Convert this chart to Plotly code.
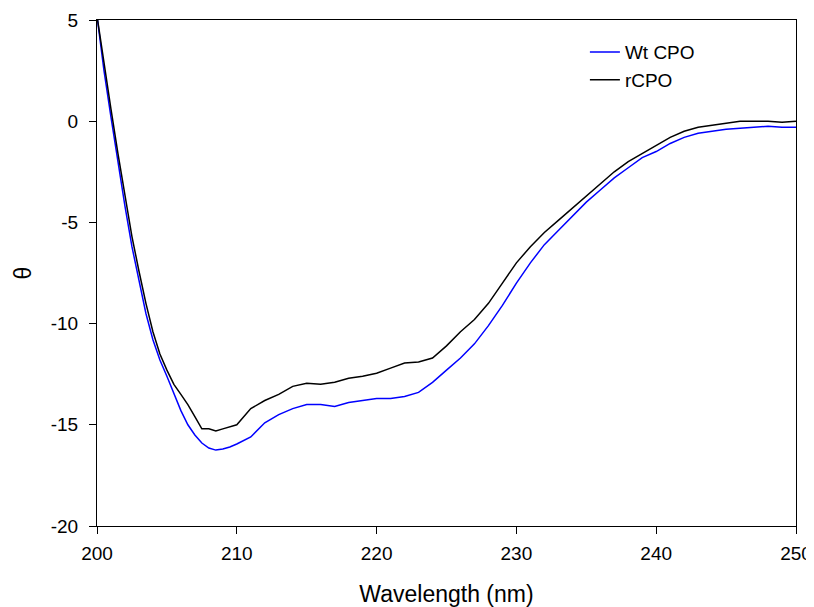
import plotly.graph_objects as go

wavelength = [200, 200.5, 201, 201.5, 202, 202.5, 203, 203.5, 204, 204.5, 205, 205.5, 206, 206.5, 207, 207.5, 208, 208.5,
              209, 209.5, 210, 211, 212, 213, 214, 215, 216, 217, 218, 219, 220, 221, 222, 223, 224, 225,
              226, 227, 228, 229, 230, 231, 232, 233, 234, 235, 236, 237, 238, 239, 240, 241, 242, 243,
              244, 245, 246, 247, 248, 249, 250]

wt_cpo = [5.2, 2.5, 0.2, -2.1, -4.2, -6.2, -7.9, -9.5, -10.8, -11.8, -12.6, -13.5, -14.3, -15.0, -15.5, -15.9, -16.15, -16.25,
          -16.2, -16.1, -15.95, -15.6, -14.9, -14.5, -14.2, -14.0, -14.0, -14.1, -13.9, -13.8, -13.7, -13.7, -13.6, -13.4, -12.9, -12.3,
          -11.7, -11.0, -10.1, -9.1, -8.0, -7.0, -6.1, -5.4, -4.7, -4.0, -3.4, -2.8, -2.3, -1.8, -1.5, -1.1, -0.8, -0.6,
          -0.5, -0.4, -0.35, -0.3, -0.25, -0.3, -0.3]

r_cpo = [5.2, 2.8, 0.6, -1.6, -3.7, -5.7, -7.4, -9.0, -10.4, -11.5, -12.3, -13.0, -13.5, -14.0, -14.6, -15.2, -15.2, -15.3,
         -15.2, -15.1, -15.0, -14.2, -13.8, -13.5, -13.1, -12.95, -13.0, -12.9, -12.7, -12.6, -12.45, -12.2, -11.95, -11.9, -11.7, -11.1,
         -10.4, -9.8, -9.0, -8.0, -7.0, -6.2, -5.5, -4.9, -4.3, -3.7, -3.1, -2.5, -2.0, -1.6, -1.2, -0.8, -0.5, -0.3,
         -0.2, -0.1, 0.0, 0.0, 0.0, -0.05, 0.0]

x_ticks = [200, 210, 220, 230, 240, 250]
x_tick_labels = ["200", "210", "220", "230", "240", "250"]
y_ticks = [5, 0, -5, -10, -15, -20]
y_tick_labels = ["5", "0", "-5", "-10", "-15", "-20"]

font_family = "Liberation Sans, Arial, sans-serif"

fig = go.Figure()
fig.add_trace(go.Scatter(x=wavelength, y=wt_cpo, mode="lines", name="Wt CPO",
                         line=dict(color="#0000ff", width=1.5)))
fig.add_trace(go.Scatter(x=wavelength, y=r_cpo, mode="lines", name="rCPO",
                         line=dict(color="#000000", width=1.5)))

axis_common = dict(showline=True, linecolor="black", linewidth=1, mirror=True,
                   ticks="outside", ticklen=7, tickwidth=1, tickcolor="black",
                   showgrid=False, zeroline=False, automargin=False,
                   tickfont=dict(family=font_family, size=19, color="black"))

fig.update_xaxes(range=[200, 250], tickvals=x_ticks, ticktext=x_tick_labels, ticklabelstandoff=3,
                 title=dict(text="Wavelength (nm)", font=dict(family=font_family, size=23, color="black"), standoff=24),
                 **axis_common)
fig.update_yaxes(range=[-20, 5], tickvals=y_ticks, ticktext=y_tick_labels, ticklabelstandoff=7,
                 title=dict(text="θ", font=dict(family=font_family, size=23, color="black"), standoff=12),
                 **axis_common)

# the page body adds an 8px offset, so the figure is sized to fit the 814x607 window
fig.update_layout(
    width=806, height=599,
    margin=dict(l=89, r=18, t=12, b=81),
    paper_bgcolor="white", plot_bgcolor="white",
    font=dict(family=font_family, color="black"),
    legend=dict(x=0.698, y=0.974, xanchor="left", yanchor="top",
                bgcolor="rgba(0,0,0,0)", font=dict(family=font_family, size=19, color="black"),
                tracegroupgap=0),
    showlegend=True,
)

fig.write_html("out.html")
